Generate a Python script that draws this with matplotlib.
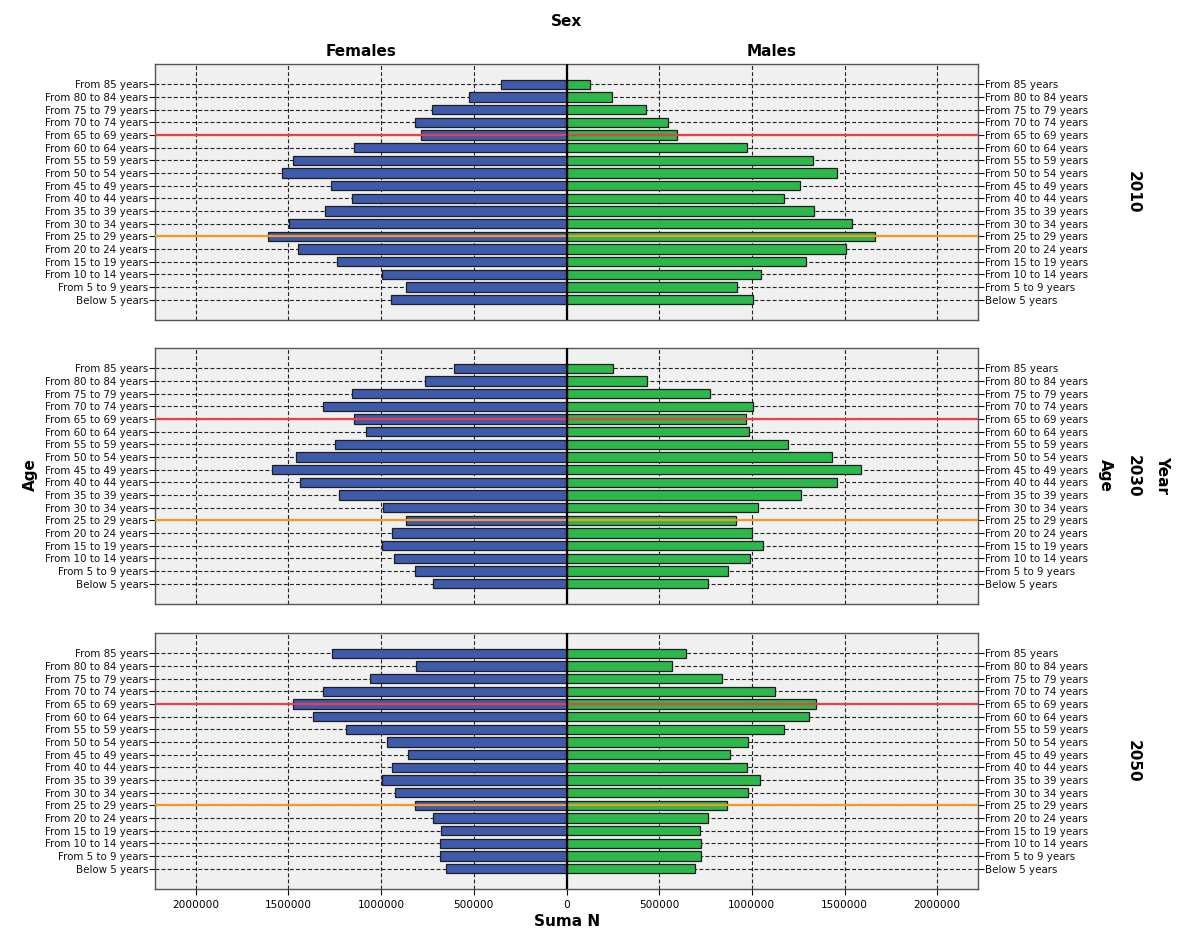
"""Age pyramids by sex for 2010, 2030 and 2050 (sum of N per age band)."""

import matplotlib
matplotlib.use("Agg")
import matplotlib.pyplot as plt
import matplotlib.ticker as ticker
import numpy as np


# --------------------------------------------------------------------------- #
#  Data, youngest band first                 #
# --------------------------------------------------------------------------- #
AGE_GROUPS = [
    "Below 5 years", "From 5 to 9 years", "From 10 to 14 years",
    "From 15 to 19 years", "From 20 to 24 years", "From 25 to 29 years",
    "From 30 to 34 years", "From 35 to 39 years", "From 40 to 44 years",
    "From 45 to 49 years", "From 50 to 54 years", "From 55 to 59 years",
    "From 60 to 64 years", "From 65 to 69 years", "From 70 to 74 years",
    "From 75 to 79 years", "From 80 to 84 years", "From 85 years",
]
YEARS = ["2010", "2030", "2050"]

FEMALES_2010 = [948e3, 868e3, 995e3, 1236e3, 1450e3, 1613e3, 1496e3, 1305e3, 1159e3,
                1272e3, 1535e3, 1477e3, 1148e3, 784e3, 820e3, 728e3, 526e3, 351e3]
MALES_2010 = [1004e3, 921e3, 1047e3, 1292e3, 1508e3, 1663e3, 1539e3, 1335e3, 1173e3,
              1258e3, 1459e3, 1330e3, 973e3, 595e3, 550e3, 427e3, 247e3, 128e3]

FEMALES_2030 = [721e3, 820e3, 932e3, 996e3, 944e3, 867e3, 989e3, 1229e3, 1436e3,
                1589e3, 1458e3, 1249e3, 1081e3, 1148e3, 1315e3, 1159e3, 764e3, 607e3]
MALES_2030 = [766e3, 870e3, 989e3, 1058e3, 1000e3, 912e3, 1031e3, 1263e3, 1459e3,
              1587e3, 1431e3, 1193e3, 987e3, 971e3, 1004e3, 773e3, 436e3, 252e3]

FEMALES_2050 = [652e3, 683e3, 681e3, 677e3, 721e3, 816e3, 926e3, 993e3, 939e3,
                856e3, 969e3, 1189e3, 1368e3, 1477e3, 1312e3, 1059e3, 813e3, 1267e3]
MALES_2050 = [695e3, 728e3, 724e3, 719e3, 766e3, 865e3, 978e3, 1043e3, 975e3,
              881e3, 978e3, 1173e3, 1306e3, 1348e3, 1124e3, 838e3, 568e3, 643e3]

FEMALES = [FEMALES_2010, FEMALES_2030, FEMALES_2050]
MALES = [MALES_2010, MALES_2030, MALES_2050]

# reference lines drawn across every panel
RED_GROUP = "From 65 to 69 years"
ORANGE_GROUP = "From 25 to 29 years"

# --------------------------------------------------------------------------- #
#  Style                                                                       #
# --------------------------------------------------------------------------- #
BLUE = "#3d5aab"
GREEN = "#2db84b"
PANEL_BG = "#f0f0f0"
RED = "#ec3e46"
ORANGE = "#f29a24"
XLIM = 2.22e6

fig = plt.figure(figsize=(11.9, 9.5), dpi=100)

left, width = 155 / 1190, 823 / 1190
tops = [64, 348, 633]
height_px = 256

y = np.arange(len(AGE_GROUPS))
axes = []
for i, year in enumerate(YEARS):
    bottom = 1 - (tops[i] + height_px) / 950
    ax = fig.add_axes([left, bottom, width, height_px / 950])
    axes.append(ax)
    ax.set_facecolor(PANEL_BG)

    ax.barh(y, -np.array(FEMALES[i]), height=0.74, color=BLUE,
            edgecolor="#1e1e1e", linewidth=0.9, zorder=3)
    ax.barh(y, MALES[i], height=0.74, color=GREEN,
            edgecolor="#1e1e1e", linewidth=0.9, zorder=3)

    ax.axhline(AGE_GROUPS.index(RED_GROUP), color=RED, lw=1.6, zorder=5)
    ax.axhline(AGE_GROUPS.index(ORANGE_GROUP), color=ORANGE, lw=1.6, zorder=5)
    ax.axvline(0, color="black", lw=1.6, zorder=6)

    ax.set_xlim(-XLIM, XLIM)
    ax.set_ylim(-1.6, len(AGE_GROUPS) - 1 + 1.6)
    ax.set_xticks(np.arange(-2e6, 2.01e6, 5e5))
    ax.xaxis.set_major_formatter(
        ticker.FuncFormatter(lambda v, _: f"{abs(int(round(v)))}"))
    ax.set_yticks(y)
    ax.set_yticklabels(AGE_GROUPS)

    ax.grid(True, axis="both", color="#222222", linestyle=(0, (3.5, 2)),
            linewidth=0.8, zorder=1)
    ax.set_axisbelow(True)

    ax.tick_params(axis="y", left=True, right=True, labelleft=True,
                   labelright=True, length=4, width=0.8, pad=1,
                   labelsize=7.4, colors="#111111")
    if i < 2:
        ax.tick_params(axis="x", bottom=False, labelbottom=False)
    else:
        ax.tick_params(axis="x", length=4, width=0.8, labelsize=7.6, pad=4)

    for s in ax.spines.values():
        s.set_color("#555555")
        s.set_linewidth(1.0)

    # year label on the right
    yc = 1 - (tops[i] + height_px / 2) / 950
    fig.text(1133 / 1190, yc, year, rotation=-90, ha="center", va="center",
             fontsize=11, fontweight="bold")

# titles and axis names
fig.text(567 / 1190, 1 - 22 / 950, "Sex", ha="center", va="center",
         fontsize=11, fontweight="bold")
fig.text(361 / 1190, 1 - 52 / 950, "Females", ha="center", va="center",
         fontsize=11, fontweight="bold")
fig.text(772 / 1190, 1 - 52 / 950, "Males", ha="center", va="center",
         fontsize=11, fontweight="bold")
fig.text(30 / 1190, 1 - 475 / 950, "Age", rotation=90, ha="center",
         va="center", fontsize=11, fontweight="bold")
fig.text(1105 / 1190, 1 - 475 / 950, "Age", rotation=-90, ha="center",
         va="center", fontsize=11, fontweight="bold")
fig.text(1163 / 1190, 1 - 475 / 950, "Year", rotation=-90, ha="center",
         va="center", fontsize=11, fontweight="bold")
fig.text(567 / 1190, 1 - 921 / 950, "Suma N", ha="center", va="center",
         fontsize=11, fontweight="bold")

fig.savefig("out.png", dpi=100, facecolor="white")
